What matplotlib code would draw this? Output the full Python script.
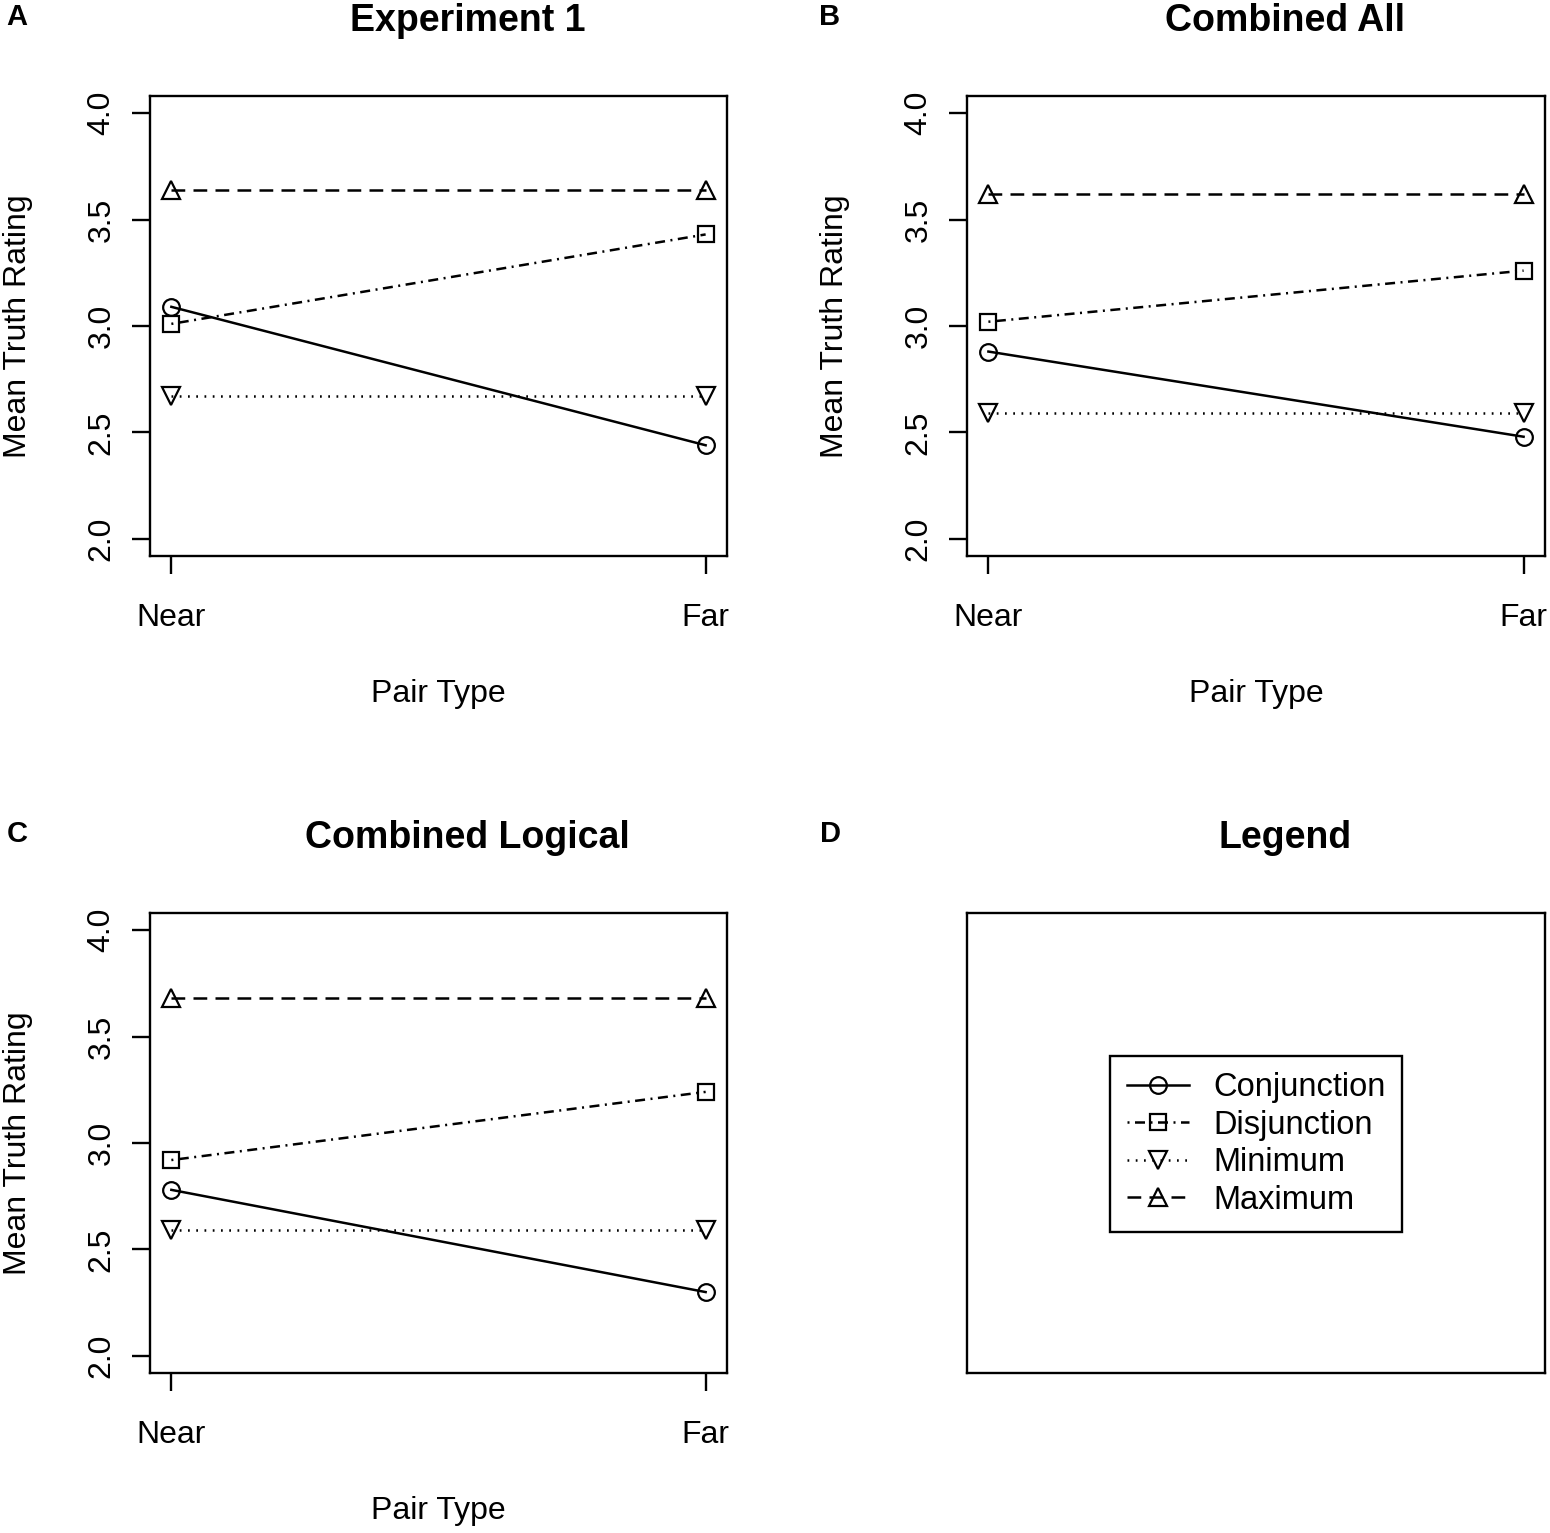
import numpy as np
import matplotlib
matplotlib.use("Agg")
import matplotlib.pyplot as plt

plt.rcParams['font.family'] = ['Liberation Sans', 'DejaVu Sans']

pair_types = ["Near", "Far"]
series_names = ["Conjunction", "Disjunction", "Minimum", "Maximum"]

# mean truth ratings per panel, rows follow series_names, columns Near/Far
exp1 = [[3.09, 2.44],
        [3.01, 3.43],
        [2.67, 2.67],
        [3.64, 3.64]]
comb_all = [[2.88, 2.48],
            [3.02, 3.26],
            [2.59, 2.59],
            [3.62, 3.62]]
comb_logical = [[2.78, 2.30],
                [2.92, 3.24],
                [2.59, 2.59],
                [3.68, 3.68]]

y_ticks = [2.0, 2.5, 3.0, 3.5, 4.0]

markers = ['o', 's', 'v', '^']
marker_sizes = [12, 12, 13, 13]
dash_styles = [None, (0.8, 2.2, 4, 2.2), (0.7, 2.6), (5.5, 3.3)]
LW = 1.8
SPINE_LW = 1.7

W, H = 1550, 1533
fig = plt.figure(figsize=(W / 100, H / 100), dpi=100)


def ax_rect(x0, y0, x1, y1):
    # pixel box -> figure fraction
    return [x0 / W, 1 - y1 / H, (x1 - x0) / W, (y1 - y0) / H]


def style_line(line, i):
    if dash_styles[i] is not None:
        line.set_dashes(dash_styles[i])


def draw_panel(rect, data, title):
    ax = fig.add_axes(rect)
    x = np.arange(1, len(pair_types) + 1)
    for i, vals in enumerate(data):
        ln, = ax.plot(x, vals, color='black', lw=LW, marker=markers[i],
                      ms=marker_sizes[i], mfc='none', mec='black', mew=1.6)
        style_line(ln, i)
    ax.set_xlim(0.96, 2.04)
    ax.set_ylim(1.92, 4.08)
    ax.set_xticks(x)
    ax.set_xticklabels(pair_types, fontsize=23)
    ax.set_yticks(y_ticks)
    ax.set_yticklabels(["%.1f" % t for t in y_ticks], fontsize=23,
                       rotation=90, va='center')
    ax.tick_params(axis='both', direction='out', length=13, width=SPINE_LW)
    ax.tick_params(axis='x', pad=21)
    ax.tick_params(axis='y', pad=11)
    for s in ax.spines.values():
        s.set_linewidth(SPINE_LW)
    ax.text(0.5, -0.30, "Pair Type", transform=ax.transAxes, fontsize=23,
            ha='center', va='center')
    ax.text(-0.228, 0.5, "Mean Truth Rating", transform=ax.transAxes,
            fontsize=23, ha='center', va='center', rotation=90)
    ax.text(0.55, 1.162, title, transform=ax.transAxes, fontsize=27,
            fontweight='bold', ha='center', va='center')
    return ax


draw_panel(ax_rect(150, 96, 727, 556), exp1, "Experiment 1")
draw_panel(ax_rect(967, 96, 1545, 556), comb_all, "Combined All")
draw_panel(ax_rect(150, 913, 727, 1373), comb_logical, "Combined Logical")

# legend panel
axd = fig.add_axes(ax_rect(967, 913, 1545, 1373))
axd.set_xticks([])
axd.set_yticks([])
for s in axd.spines.values():
    s.set_linewidth(SPINE_LW)
axd.text(0.55, 1.164, "Legend", transform=axd.transAxes, fontsize=27,
         fontweight='bold', ha='center', va='center')
handles = []
for i, name in enumerate(series_names):
    ln, = axd.plot([], [], color='black', lw=LW, marker=markers[i],
                   ms=marker_sizes[i], mfc='none', mec='black', mew=1.6,
                   label=name)
    style_line(ln, i)
    handles.append(ln)
leg = axd.legend(handles=handles, loc='center', bbox_to_anchor=(0.5, 0.498),
                 fontsize=23.5, frameon=True, fancybox=False, framealpha=1,
                 edgecolor='black', handlelength=1.9, handletextpad=0.75,
                 borderpad=0.5, labelspacing=0.2, borderaxespad=0)
leg.get_frame().set_linewidth(SPINE_LW)

for lab, (px, py) in zip("ABCD", [(17, 17), (830, 17), (17, 834), (830, 834)]):
    fig.text(px / W, 1 - py / H, lab, fontsize=21, fontweight='bold',
             ha='center', va='center')

fig.savefig("out.png", dpi=100)
